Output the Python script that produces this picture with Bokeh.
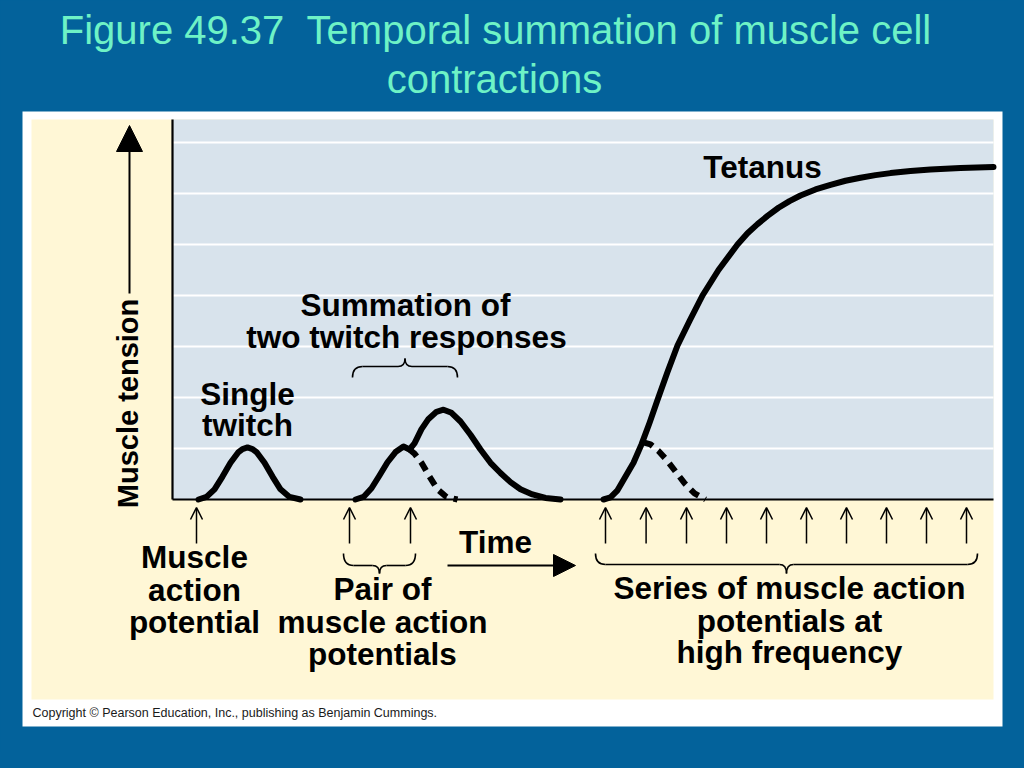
from bokeh.plotting import figure
from bokeh.models import Range1d, Arrow, NormalHead, OpenHead, ColumnDataSource, GlobalInlineStyleSheet
from bokeh.core.properties import value
from bokeh.embed import file_html
from bokeh.resources import INLINE

# ---------------- data (time in arbitrary units, tension in grid units) ----------------
single_stim = [6.0]
pair_stim = [44.25, 59.5]
series_stim = [108.25, 118.4, 128.5, 138.5, 148.5, 158.5, 168.5, 178.5, 188.5, 198.5]

single_t = [6.5, 8.5, 10.5, 12.5, 14.5, 16.5, 17.5, 18.75, 20, 21, 23, 25, 27, 29.25, 32]
single_y = [0, 0.05, 0.2, 0.45, 0.72, 0.93, 0.99, 1.02, 0.99, 0.93, 0.72, 0.45, 0.2, 0.05, 0]

sum_t = [45.75, 47.75, 49.75, 51.75, 53.75, 55.75, 57.75, 59.25, 60.5, 62.25, 64, 66,
         67.75, 69.75, 72, 74.5, 77, 79.5, 82, 84.5, 87, 90, 93.25, 97]
sum_y = [0, 0.05, 0.22, 0.47, 0.73, 0.93, 1.04, 0.98, 1.1, 1.38, 1.58, 1.72,
         1.76, 1.7, 1.53, 1.27, 0.98, 0.72, 0.52, 0.34, 0.2, 0.1, 0.03, 0]
sum_dash_t = [59.25, 60.5, 62.25, 64.25, 66.25, 68.5, 71.25]
sum_dash_y = [0.98, 0.9, 0.72, 0.45, 0.2, 0.05, 0]

tet_t = [107.75, 109.5, 111.25, 113.25, 115.25, 117.25, 119.25, 121.25, 123.75, 126.25,
         129.25, 132.5, 136.5, 141.25, 143.75, 146.25, 148.75, 151.5, 154.25, 157, 160.75,
         164.5, 168.25, 172, 175.75, 179.5, 184.5, 189.5, 197, 205.25]
tet_y = [0, 0.04, 0.18, 0.45, 0.72, 1.08, 1.5, 1.95, 2.5, 3.02,
         3.5, 4.0, 4.5, 5.0, 5.22, 5.4, 5.56, 5.72, 5.85, 5.96, 6.08,
         6.17, 6.25, 6.31, 6.36, 6.4, 6.44, 6.47, 6.5, 6.52]
tet_dash_t = [117.75, 119.5, 121.5, 123.5, 125.75, 128, 130.5, 133.25]
tet_dash_y = [1.12, 1.08, 0.95, 0.78, 0.55, 0.32, 0.12, 0]

grid_levels = [1, 2, 3, 4, 5, 6, 7]

# ---------------- layout helpers (page pixel -> data units) ----------------
OX, OY = 172.0, 499.0      # plot origin on the page
SX, SY = 4.0, 51.0         # pixels per data unit
BASE_SHIFT = 0.33          # renderer places alphabetic text this many em lower


def X(px):
    return (px - OX) / SX


def Y(py):
    return (OY - py) / SY


T_MAX = X(993)
Y_TOP = Y(119)

BLUE = "#03629b"
BEIGE = "#fff7d6"
LIGHT = "#d8e3ec"
TITLE_COL = "#6ef2c6"
FONT = value("Liberation Sans")

p = figure(width=1008, height=752,
           x_range=Range1d(X(0), X(1008)), y_range=Range1d(Y(752), Y(0)),
           x_axis_type=None, y_axis_type=None,
           toolbar_location=None, output_backend="svg", min_border=0,
           background_fill_color=BLUE, border_fill_color=BLUE, outline_line_color=None)
p.xgrid.grid_line_color = None
p.ygrid.grid_line_color = None
p.stylesheets = [GlobalInlineStyleSheet(css="html, body { background-color: #03629b; }")]

# panels
p.quad(left=[X(22)], right=[X(1002)], bottom=[Y(726)], top=[Y(111)], fill_color="white", line_color=None)
p.quad(left=[X(31)], right=[X(993)], bottom=[Y(699)], top=[Y(119)], fill_color=BEIGE, line_color=None)
p.quad(left=[0], right=[T_MAX], bottom=[0], top=[Y_TOP], fill_color=LIGHT, line_color=None)

# grid lines
p.segment(x0=[0] * len(grid_levels), x1=[T_MAX] * len(grid_levels), y0=grid_levels, y1=grid_levels,
          line_color="white", line_width=2)
# axis lines
p.segment(x0=[0, 0], y0=[0, 0], x1=[0, T_MAX], y1=[Y_TOP, 0], line_color="black", line_width=2.2)

# curves
LW = 6
p.line(single_t, single_y, line_color="black", line_width=LW, line_join="round", line_cap="round")
p.line(sum_t, sum_y, line_color="black", line_width=LW, line_join="round", line_cap="round")
p.line(sum_dash_t, sum_dash_y, line_color="black", line_width=LW, line_dash="10 7")
p.line(tet_t, tet_y, line_color="black", line_width=LW, line_join="round", line_cap="round")
p.line(tet_dash_t, tet_dash_y, line_color="black", line_width=LW, line_dash="10 7")

# stimulus arrows
stim_src = ColumnDataSource(dict(x=single_stim + pair_stim + series_stim))
p.add_layout(Arrow(x_start="x", x_end="x", y_start=Y(543), y_end=Y(507), source=stim_src,
                   line_color="black", line_width=1.5,
                   end=OpenHead(size=12, line_width=1.5, line_color="black")))

# tension axis arrow
p.add_layout(Arrow(x_start=X(129), x_end=X(129), y_start=Y(293), y_end=Y(125),
                   line_color="black", line_width=2,
                   end=NormalHead(size=26, fill_color="black", line_color="black")))
# time arrow
p.add_layout(Arrow(x_start=X(447), x_end=X(575), y_start=Y(565), y_end=Y(565),
                   line_color="black", line_width=2,
                   end=NormalHead(size=22, fill_color="black", line_color="black")))


def brace(x0, x1, ye, yh, ytip, r=10, rt=7):
    """curly brace in page pixels; ends at ye, horizontal at yh, tip at ytip"""
    xm = (x0 + x1) / 2.0
    q = dict(x0=[], y0=[], x1=[], y1=[], cx=[], cy=[])
    for a, b, c in [((x0, ye), (x0 + r, yh), (x0, yh)),
                    ((xm - rt, yh), (xm, ytip), (xm, yh)),
                    ((xm, ytip), (xm + rt, yh), (xm, yh)),
                    ((x1 - r, yh), (x1, ye), (x1, yh))]:
        q["x0"].append(X(a[0])); q["y0"].append(Y(a[1]))
        q["x1"].append(X(b[0])); q["y1"].append(Y(b[1]))
        q["cx"].append(X(c[0])); q["cy"].append(Y(c[1]))
    p.quadratic(line_color="black", line_width=1.6, **q)
    p.segment(x0=[X(x0 + r), X(xm + rt)], x1=[X(xm - rt), X(x1 - r)], y0=[Y(yh)] * 2, y1=[Y(yh)] * 2,
              line_color="black", line_width=1.6)


brace(352, 457, 377, 366, 358)
brace(343, 415, 553, 565, 573)
brace(595, 977, 553, 564, 573)


def label(txt, cx, base, size, color="black", bold=True, align="center"):
    p.text(x=[X(cx)], y=[Y(base - BASE_SHIFT * size)], text=[txt], text_font=FONT,
           text_font_style="bold" if bold else "normal",
           text_font_size=value(f"{size}px"), text_color=color, text_align=align,
           text_baseline="alphabetic")


# title
label("Figure 49.37 \u00a0Temporal summation of muscle cell", 495, 43, 40, TITLE_COL, bold=False)
label("contractions", 494, 92, 40, TITLE_COL, bold=False)

# bold labels
labels = [("Single", 247, 404), ("twitch", 247, 435),
          ("Summation of", 405, 315), ("two twitch responses", 406, 347),
          ("Tetanus", 762, 177),
          ("Muscle", 194, 567), ("action", 194, 600), ("potential", 194, 632),
          ("Pair of", 382, 599), ("muscle action", 382, 632), ("potentials", 382, 664),
          ("Time", 495, 552),
          ("Series of muscle action", 789, 598), ("potentials at", 789, 631),
          ("high frequency", 789, 662)]
for txt, cx, by in labels:
    label(txt, cx, by, 31.5)

# vertical axis label (rotated; baseline on the right side)
p.text(x=[X(137 - BASE_SHIFT * 29)], y=[Y(403)], text=["Muscle tension"], angle=1.5707963, text_font=FONT,
       text_font_style="bold", text_font_size=value("29px"), text_color="black",
       text_align="center", text_baseline="alphabetic")

# copyright
label("Copyright \u00a9 Pearson Education, Inc., publishing as Benjamin Cummings.", 32, 717, 12.5,
      "#1a1a1a", bold=False, align="left")

open("out.html", "w").write(file_html(p, INLINE))
